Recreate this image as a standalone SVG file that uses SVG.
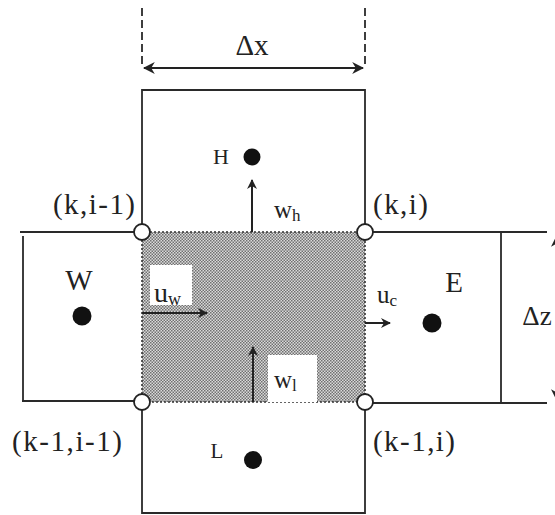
<svg xmlns="http://www.w3.org/2000/svg" width="555" height="515" viewBox="0 0 555 515">
<defs>
<pattern id="dither" width="3" height="3" patternUnits="userSpaceOnUse">
<rect width="3" height="3" fill="#dadada"/>
<rect x="0" y="0" width="1.5" height="1.5" fill="#707070"/>
<rect x="1.5" y="1.5" width="1.5" height="1.5" fill="#707070"/>
</pattern>
<marker id="ah" viewBox="0 0 10 10" refX="9" refY="5" markerWidth="10" markerHeight="10" markerUnits="userSpaceOnUse" orient="auto-start-reverse">
<path d="M0,0 L10,5 L0,10 L3,5 z" fill="#222"/>
</marker>
<marker id="ah2" viewBox="0 0 10 10" refX="9" refY="5" markerWidth="12" markerHeight="12" markerUnits="userSpaceOnUse" orient="auto-start-reverse">
<path d="M0,0 L10,5 L0,10 L3,5 z" fill="#222"/>
</marker>
</defs>
<style>
.ln{stroke:#2a2a2a;stroke-width:1.8;fill:none}
.ar{stroke:#222;stroke-width:2;fill:none}
.t{font-family:"Liberation Serif","Times New Roman",serif;fill:#222}
.nd{fill:#111}
.cc{fill:#fff;stroke:#222;stroke-width:1.8}
</style>
<rect width="555" height="515" fill="#fff"/>

<g id="center">
<rect x="142" y="232" width="223" height="170" fill="url(#dither)"/>
<rect x="142" y="232" width="223" height="170" fill="none" stroke="#333" stroke-width="1.6" stroke-dasharray="2,2"/>
<rect x="150" y="265" width="42" height="40" fill="#fff"/>
<rect x="268" y="355" width="49" height="47" fill="#fff"/>
</g>

<g id="H">
<path class="ln" d="M142,232 V90 H365 V232"/>
<text class="t" x="221" y="164" font-size="22" text-anchor="middle">H</text>
<circle class="nd" cx="252" cy="157" r="8.5"/>
</g>

<g id="W">
<path class="ln" d="M142,232 H20 M23,236 V400 M22,401 H142"/>
<text class="t" x="79" y="290" font-size="29" text-anchor="middle">W</text>
<circle class="nd" cx="82" cy="316" r="9.5"/>
</g>

<g id="E">
<path class="ln" d="M365,232 H547 M501,232 V404 M365,403 H547"/>
<text class="t" x="454" y="292" font-size="29" text-anchor="middle">E</text>
<circle class="nd" cx="432" cy="323" r="9.5"/>
</g>

<g id="L">
<path class="ln" d="M142,402 V513 H365 V402"/>
<text class="t" x="217" y="458" font-size="21" text-anchor="middle">L</text>
<circle class="nd" cx="253" cy="460" r="9"/>
</g>

<g id="connectors">
<path class="ln" d="M142,8 V68 M365,8 V66" stroke-dasharray="8,4"/>
<line class="ar" x1="144" y1="68" x2="363" y2="68" marker-start="url(#ah2)" marker-end="url(#ah2)"/>
<line class="ar" x1="557" y1="236" x2="557" y2="400" marker-start="url(#ah2)" marker-end="url(#ah2)"/>
<line class="ar" x1="252" y1="232" x2="252" y2="180" marker-end="url(#ah)"/>
<line class="ar" x1="253" y1="402" x2="253" y2="347" marker-end="url(#ah)"/>
<line class="ar" x1="142" y1="313" x2="207" y2="313" marker-end="url(#ah)"/>
<line class="ar" x1="365" y1="323" x2="390" y2="323" marker-end="url(#ah)"/>
</g>

<g id="corners">
<circle class="cc" cx="142" cy="232" r="8"/>
<circle class="cc" cx="365" cy="232" r="8"/>
<circle class="cc" cx="142" cy="402" r="8"/>
<circle class="cc" cx="365" cy="402" r="8"/>
</g>

<g id="labels">
<text class="t" x="252" y="55" font-size="29" text-anchor="middle">Δx</text>
<text class="t" x="537" y="325" font-size="27" text-anchor="middle">Δz</text>
<text class="t" x="53" y="214" font-size="29" textLength="82" lengthAdjust="spacing">(k,i-1)</text>
<text class="t" x="373" y="214" font-size="29" textLength="55" lengthAdjust="spacing">(k,i)</text>
<text class="t" x="12" y="451" font-size="29" textLength="110" lengthAdjust="spacing">(k-1,i-1)</text>
<text class="t" x="373" y="451" font-size="29" textLength="82" lengthAdjust="spacing">(k-1,i)</text>
<text class="t" x="154" y="302" font-size="28">u<tspan font-size="18" dy="3">w</tspan></text>
<text class="t" x="377" y="303" font-size="25">u<tspan font-size="17" dy="3">c</tspan></text>
<text class="t" x="274" y="218" font-size="25">w<tspan font-size="17" dy="3">h</tspan></text>
<text class="t" x="274" y="388" font-size="25">w<tspan font-size="17" dy="3">l</tspan></text>
</g>
</svg>
